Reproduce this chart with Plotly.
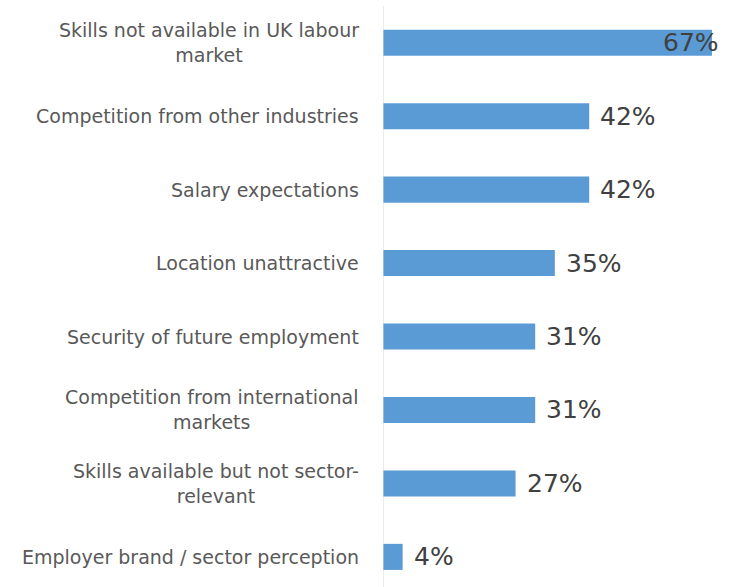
import plotly.graph_objects as go

categories = [
    "Skills not available in UK labour<br>market",
    "Competition from other industries",
    "Salary expectations",
    "Location unattractive",
    "Security of future employment",
    "Competition from international<br>markets",
    "Skills available but not sector-<br>relevant",
    "Employer brand / sector perception",
]
values = [67, 42, 42, 35, 31, 31, 27, 4]
labels = [f"{v}%" for v in values]

positions = list(range(len(categories)))
X_MAX = 71.9
FONT = "DejaVu Sans, sans-serif"

fig = go.Figure()
fig.add_trace(go.Bar(
    x=values,
    y=positions,
    orientation="h",
    width=0.355,
    marker=dict(color="#5B9BD5", line=dict(width=0)),
    hoverinfo="skip",
))

# category labels as centred multi-line annotations left of the axis
for i, cat in enumerate(categories):
    fig.add_annotation(
        x=0, y=i, xref="paper", yref="y",
        text=cat, showarrow=False,
        xanchor="right", yanchor="middle", align="center",
        xshift=-22,
        font=dict(family=FONT, size=19, color="#595959"),
    )

# value labels just past the bar end (the longest one sits over the bar end)
for i, (v, lab) in enumerate(zip(values, labels)):
    fits = v < X_MAX - 12
    fig.add_annotation(
        x=v, y=i, xref="x", yref="y",
        text=lab, showarrow=False,
        xanchor="left" if fits else "right", yanchor="middle",
        xshift=9,
        font=dict(family=FONT, size=25, color="#404040"),
    )

fig.update_layout(
    width=736, height=587,
    margin=dict(l=383, r=0, t=6, b=0),
    plot_bgcolor="white", paper_bgcolor="white",
    showlegend=False,
    xaxis=dict(range=[0, X_MAX], visible=False, fixedrange=True),
    yaxis=dict(
        range=[7.41, -0.5], showticklabels=False, showgrid=False,
        zeroline=False, showline=False, ticks="", fixedrange=True,
    ),
    shapes=[dict(type="line", xref="x", yref="paper", x0=0, x1=0, y0=0, y1=1,
                 line=dict(color="#D9D9D9", width=1))],
)

fig.write_html("out.html", config={"displayModeBar": False},
               post_script="document.body.style.margin='0';")
